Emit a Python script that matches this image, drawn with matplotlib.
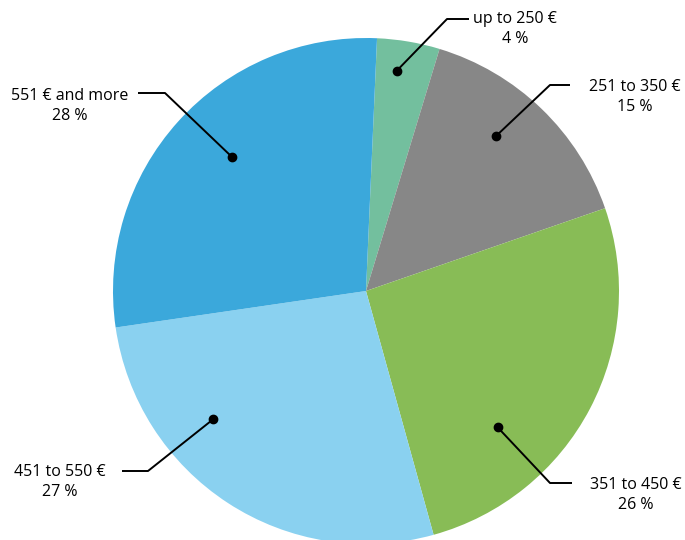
import numpy as np
import matplotlib
matplotlib.use("Agg")
import matplotlib.pyplot as plt

# ---- data ----
labels = ["up to 250 €", "251 to 350 €", "351 to 450 €", "451 to 550 €", "551 € and more"]
shares = [4, 15, 26, 27, 28]
colors = ["#73BF9E", "#878787", "#88BC56", "#8AD1F0", "#3BA8DB"]

# ---- layout (pixels, y up) ----
W, H = 685, 540
center = (366, 540 - 291)
radius = 253

# dot position on each wedge: angle (deg, ccw from +x) and radius fraction
dot_ang = [82, 50, -46, 220, 135]
dot_r = [0.88, 0.80, 0.75, 0.79, 0.75]
# elbow point and end of horizontal segment
elbow = [(447, 19), (550, 85), (550, 483), (148, 471), (165, 93)]
line_end = [(469, 19), (570, 85), (572, 483), (122, 471), (138, 93)]
# text center
text_pos = [(515, 29), (635, 97), (636, 495), (60, 482), (70, 106)]

fig = plt.figure(figsize=(W / 100, H / 100), dpi=100)
ax = fig.add_axes([0, 0, 1, 1])

ax.pie(shares, colors=colors, startangle=87.5, counterclock=False,
       center=center, radius=radius, frame=True,
       wedgeprops=dict(linewidth=0))
ax.set_xlim(0, W)
ax.set_ylim(0, H)
ax.set_aspect("equal")
ax.axis("off")

for i, lab in enumerate(labels):
    a = np.radians(dot_ang[i])
    dx = center[0] + dot_r[i] * radius * np.cos(a)
    dy = center[1] + dot_r[i] * radius * np.sin(a)
    ex, ey = elbow[i][0], H - elbow[i][1]
    lx, ly = line_end[i][0], H - line_end[i][1]
    ax.plot([dx, ex, lx], [dy, ey, ly], color="black", lw=1.4,
            solid_capstyle="butt", zorder=5)
    ax.plot(dx, dy, "o", color="black", markersize=6, zorder=6)
    tx, ty = text_pos[i][0], H - text_pos[i][1]
    ax.text(tx, ty, f"{lab}\n{shares[i]} %", ha="center", va="center",
            fontsize=11.5, family="Open Sans", color="black",
            linespacing=1.4)

fig.savefig("out.png", dpi=100)
